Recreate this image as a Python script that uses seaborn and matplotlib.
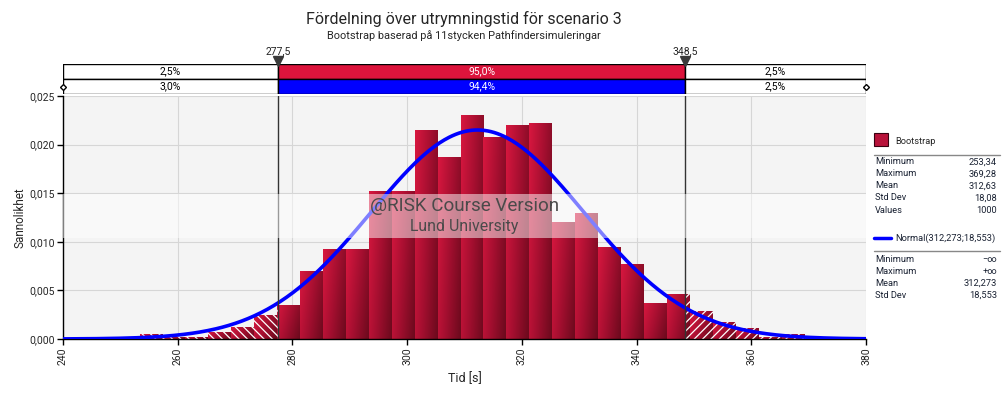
import numpy as np
import pandas as pd
import matplotlib
matplotlib.use("Agg")
import matplotlib.pyplot as plt
import seaborn as sns
from matplotlib.colors import LinearSegmentedColormap
from matplotlib.patches import Rectangle
from matplotlib.lines import Line2D
from matplotlib.ticker import FuncFormatter, MultipleLocator

# --- data ---
boot_min, boot_max = 253.34, 369.28
bin_density = [0.0005, 0.00025, 0.00025, 0.00075, 0.00125, 0.0025, 0.0035,
               0.007, 0.00925, 0.00925, 0.01525, 0.01525, 0.0215, 0.01875,
               0.023, 0.02075, 0.022, 0.02225, 0.012, 0.013, 0.0095, 0.00775,
               0.00375, 0.0046, 0.00285, 0.00175, 0.0011, 0.00025, 0.0005]
fit_mean, fit_sd = 312.273, 18.553
cut_lo, cut_hi = 277.5, 348.5
cut_labels = ["277,5", "348,5"]
boot_pct = ["2,5%", "95,0%", "2,5%"]
fit_pct = ["3,0%", "94,4%", "2,5%"]
boot_stats = [("Minimum", "253,34"), ("Maximum", "369,28"), ("Mean", "312,63"),
              ("Std Dev", "18,08"), ("Values", "1000")]
fit_stats = [("Minimum", "\u2212\u221e"), ("Maximum", "+\u221e"), ("Mean", "312,273"),
             ("Std Dev", "18,553")]
x_range = (240, 380)
y_range = (0, 0.025)

sns.set_theme(style="white")
plt.rcParams['font.family'] = ['Roboto', 'DejaVu Sans']
plt.rcParams['hatch.linewidth'] = 0.9

W, H = 1007, 394
fig = plt.figure(figsize=(W / 100, H / 100), dpi=100)
fig.patch.set_facecolor("white")

ax = fig.add_axes([63 / W, 1 - 339 / H, 803 / W, 243 / H])
ax.set_facecolor("#f4f4f4")

edges = np.linspace(boot_min, boot_max, len(bin_density) + 1)
hist_df = pd.DataFrame({"tid": (edges[:-1] + edges[1:]) / 2, "density": bin_density})
sns.histplot(data=hist_df, x="tid", weights="density", bins=list(edges), ax=ax,
             color="#b8123a", alpha=1, linewidth=0, zorder=2)

# gradient fill on each bar
cmap = LinearSegmentedColormap.from_list("bar", ["#d8173f", "#a50f30", "#6c0a1d"])
gx, gy = np.meshgrid(np.linspace(0, 1, 40), np.linspace(0, 1, 40))
grad = 0.7 * gx + 0.3 * (1 - gy)
for p in list(ax.patches):
    x0, w, h = p.get_x(), p.get_width(), p.get_height()
    if h <= 0:
        continue
    im = ax.imshow(grad, extent=[x0, x0 + w, 0, h], origin="lower", cmap=cmap,
                   aspect="auto", zorder=2.1, interpolation="bilinear")
    im.set_clip_path(p)
    # hatched tails
    if x0 < cut_lo:
        r = min(x0 + w, cut_lo)
        ax.add_patch(Rectangle((x0, 0), r - x0, h, facecolor="none", edgecolor="white",
                               hatch="\\\\\\\\", linewidth=0, zorder=2.2))
    if x0 + w > cut_hi:
        l = max(x0, cut_hi)
        ax.add_patch(Rectangle((l, 0), x0 + w - l, h, facecolor="none", edgecolor="white",
                               hatch="////", linewidth=0, zorder=2.2))

# fitted normal
xs = np.linspace(x_range[0], x_range[1], 500)
pdf = np.exp(-0.5 * ((xs - fit_mean) / fit_sd) ** 2) / (fit_sd * np.sqrt(2 * np.pi))
sns.lineplot(x=xs, y=pdf, ax=ax, color="#0000ff", linewidth=2.6, zorder=4)

for c in (cut_lo, cut_hi):
    ax.axvline(c, color="#333333", linewidth=1, zorder=4.5)

# watermark band
ax.add_patch(Rectangle((0, 101 / 243), 1, 44 / 243, transform=ax.transAxes,
                       facecolor="white", alpha=0.5, linewidth=0, zorder=5))
ax.text(0.5, (339 - 206) / 243, "@RISK Course Version", transform=ax.transAxes,
        ha="center", va="center", fontsize=13.6, color="#4a4a4a", zorder=6)
ax.text(0.5, (339 - 227) / 243, "Lund University", transform=ax.transAxes,
        ha="center", va="center", fontsize=11.4, color="#4a4a4a", zorder=6)

ax.set_xlim(*x_range)
ax.set_ylim(*y_range)
ax.xaxis.set_major_locator(MultipleLocator(20))
ax.yaxis.set_major_locator(MultipleLocator(0.005))
ax.yaxis.set_major_formatter(FuncFormatter(lambda v, _: f"{v:.3f}".replace(".", ",")))
ax.grid(True, color="#d6d6d6", linewidth=0.8, zorder=0)
ax.set_axisbelow(True)
for s in ("top", "right"):
    ax.spines[s].set_visible(False)
for s in ("left", "bottom"):
    ax.spines[s].set_color("black")
    ax.spines[s].set_linewidth(1)
ax.tick_params(axis="both", which="major", length=4, width=1, color="black",
               labelsize=7.5, direction="out", bottom=True, left=True, pad=2)
ax.tick_params(axis="x", labelrotation=90)
ax.set_xlabel("Tid [s]", fontsize=9, labelpad=5)
ax.set_ylabel("Sannolikhet", fontsize=8.5, labelpad=2)

# top percentile strip
ax_top = fig.add_axes([63 / W, 1 - 94 / H, 803 / W, 30 / H])
ax_top.set_xlim(*x_range)
ax_top.set_ylim(0, 2)
ax_top.axis("off")
segs = [(x_range[0], cut_lo - x_range[0]), (cut_lo, cut_hi - cut_lo), (cut_hi, x_range[1] - cut_hi)]
ax_top.broken_barh(segs, (1, 1), facecolors=["white", "#dc143c", "white"],
                   edgecolor="black", linewidth=1)
ax_top.broken_barh(segs, (0, 1), facecolors=["white", "#0000ff", "white"],
                   edgecolor="black", linewidth=1)
for (x0, w), bt, ft, col in zip(segs, boot_pct, fit_pct, ["black", "white", "black"]):
    ax_top.text(x0 + w / 2, 1.5, bt, ha="center", va="center", fontsize=7.5, color=col)
    ax_top.text(x0 + w / 2, 0.5, ft, ha="center", va="center", fontsize=7.5, color=col)
ax_top.plot([cut_lo, cut_hi], [2.2, 2.2], linestyle="none", marker="v", markersize=7,
            color="#3a3a3a", clip_on=False)
for c, lab in zip((cut_lo, cut_hi), cut_labels):
    ax_top.text(c, 2.85, lab, ha="center", va="center", fontsize=7.5)
ax_top.plot(x_range, [0.5, 0.5], linestyle="none", marker="D", markersize=3,
            markerfacecolor="white", markeredgecolor="black", clip_on=False)

# titles
fig.text(464 / W, 1 - 19 / H, "Fördelning över utrymningstid för scenario 3",
         ha="center", va="center", fontsize=11.5)
fig.text(464 / W, 1 - 36 / H, "Bootstrap baserad på 11stycken Pathfindersimuleringar",
         ha="center", va="center", fontsize=7.9)

# legend panel
fig.patches.append(Rectangle((874 / W, 1 - 146 / H), 14 / W, 13 / H, transform=fig.transFigure,
                             facecolor="#b8123a", edgecolor="#3a0010", linewidth=0.8))
fig.text(895 / W, 1 - 141 / H, "Bootstrap", va="center", fontsize=6.7)
fig.lines.append(Line2D([874 / W, 1000 / W], [1 - 155 / H] * 2, transform=fig.transFigure,
                        color="#888888", linewidth=1))
for i, (k, v) in enumerate(boot_stats):
    y = 1 - (162 + 12 * i) / H
    fig.text(875 / W, y, k, va="center", fontsize=6.7, color="#1a2233")
    fig.text(997 / W, y, v, va="center", ha="right", fontsize=6.7, color="#1a2233")
fig.lines.append(Line2D([874 / W, 891 / W], [1 - 238 / H] * 2, transform=fig.transFigure,
                        color="#0000ff", linewidth=2.5))
fig.text(895 / W, 1 - 238 / H, f"Normal({fit_mean:.3f};{fit_sd:.3f})".replace(".", ","),
         va="center", fontsize=6.7, color="#1a2233")
fig.lines.append(Line2D([874 / W, 1000 / W], [1 - 251 / H] * 2, transform=fig.transFigure,
                        color="#888888", linewidth=1))
for i, (k, v) in enumerate(fit_stats):
    y = 1 - (259 + 12 * i) / H
    fig.text(875 / W, y, k, va="center", fontsize=6.7, color="#1a2233")
    fig.text(997 / W, y, v, va="center", ha="right", fontsize=6.7, color="#1a2233")

fig.savefig("out.png", dpi=100)
